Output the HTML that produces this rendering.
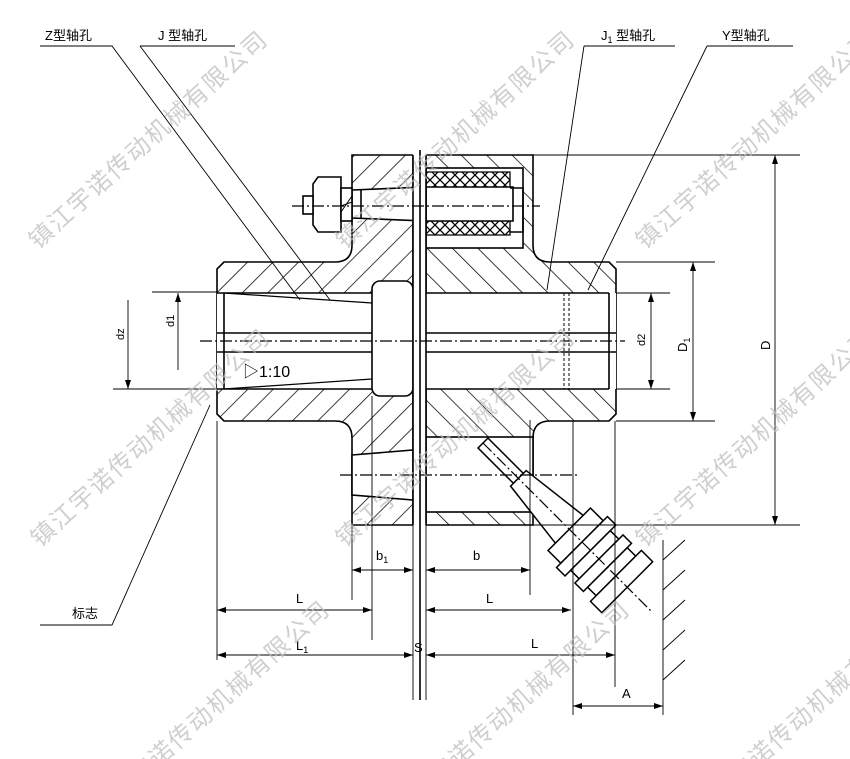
<!DOCTYPE html>
<html><head><meta charset="utf-8"><style>
html,body{margin:0;padding:0;background:#fff;width:850px;height:759px;overflow:hidden}
svg{display:block}
text{font-family:"Liberation Sans","Noto Sans CJK SC",sans-serif}
</style></head><body>
<svg width="850" height="759" viewBox="0 0 850 759" xmlns="http://www.w3.org/2000/svg">
<defs>
<pattern id="hl" width="18" height="18" patternUnits="userSpaceOnUse" patternTransform="rotate(45)">
<line x1="0" y1="0" x2="0" y2="18" stroke="#000" stroke-width="1.5"/></pattern>
<pattern id="hr" width="18" height="18" patternUnits="userSpaceOnUse" patternTransform="rotate(-45)">
<line x1="0" y1="0" x2="0" y2="18" stroke="#000" stroke-width="1.5"/></pattern>
<pattern id="hx" width="10" height="10" patternUnits="userSpaceOnUse">
<path d="M0 0L10 10M10 0L0 10" stroke="#000" stroke-width="1.3"/></pattern>
</defs>
<g fill="none" stroke="#000" stroke-width="1.6">
<path d="M224 262H335Q352 262 352 245V155H413V525H352V438Q352 421 335 421H224L217 414V269Z" fill="url(#hl)"/>
<path d="M426 155H533V245Q533 262 550 262H609L616 269V414L609 421H550Q533 421 533 438V525H426Z" fill="url(#hr)"/>
<path d="M217 293H372V389H217Z" fill="#fff" stroke="none"/>
<path d="M217 293H372M217 389H372M224 293V389M217 333H372M217 352H372"/>
<path d="M224 293L372 303M224 389L372 379" stroke-width="1.2"/>
<rect x="372" y="281" width="41" height="115" rx="8" fill="#fff"/>
<rect x="426" y="293" width="190" height="96" fill="#fff" stroke="none"/>
<path d="M426 293H609M426 389H609M609 293V389M426 333H616M426 352H616"/>
<path d="M564 293V389M569 293V389" stroke-width="1" stroke-dasharray="3,2"/>
<rect x="426" y="168" width="97" height="80" fill="#fff"/>
<path d="M426 172H510V235H426Z" fill="url(#hx)" stroke-width="1.3"/>
<path d="M426 187H513V221H426Z" fill="#fff"/>
<path d="M510 188H523V232H510" />
<path d="M352 190L426 187V221L352 218Z" fill="#fff"/>
<path d="M361 190V218"/>
<path d="M318 177H341V232H318L313 225V184Z" fill="#fff"/>
<rect x="303" y="196" width="10" height="18" fill="#fff"/>
<rect x="341" y="188" width="11" height="33" fill="#fff"/>
<path d="M341 212L352 196M341 206L352 202" stroke-width="1"/>
<path d="M352 455L413 450V500L352 495Z" fill="#fff"/>
<rect x="426" y="437" width="107" height="75" fill="#fff"/>
<rect x="413" y="150" width="13" height="380" fill="#fff" stroke="none"/>
<path d="M413 155V525M426 155V525M420 150V700" />
</g>
<g transform="translate(483,443) rotate(45)" fill="#fff" stroke="#000" stroke-width="1.5">
<rect x="0" y="-7" width="50" height="14"/>
<path d="M50 -11L125 -20V20L50 11Z"/>
<rect x="122" y="-30" width="18" height="60"/>
<rect x="140" y="-36" width="12" height="72"/>
<rect x="152" y="-28" width="12" height="56"/>
<rect x="164" y="-34" width="12" height="68"/>
<rect x="176" y="-28" width="12" height="56"/>
<rect x="188" y="-36" width="16" height="72"/>
</g>
<g stroke="#000" stroke-width="1.2" stroke-dasharray="12,3,2,3" fill="none">
<line x1="200" y1="341" x2="625" y2="341"/>
<line x1="292" y1="206" x2="540" y2="206"/>
<line x1="340" y1="475" x2="580" y2="475"/>
<line x1="483" y1="443" x2="652" y2="612"/>
</g>
<g stroke="#000" stroke-width="0.9" fill="none">
<path d="M530 155H800M616 262H715M616 421H715M616 293H670M616 389H670M533 525H800"/>
<path d="M152 292H217M113 389H217"/>
<path d="M217 421V660M352 525V600M372 396V640M413 525V700M426 525V700M530 420V595M573 421V715M615 421V687M663 540V715"/>
<path d="M775 155V525M693 262V421M651 293V389M178 293V370M128 300V389"/>
<path d="M352 570H413M426 570H530M217 610H372M426 610H571M217 655H413M426 655H615M573 706H663"/>
<path d="M663 560L685 540M663 590L685 570M663 620L685 600M663 650L685 630M663 680L685 660"/>
<path d="M40 46H112L300 300M140 46H235M140 46L330 300M584 46H675M584 46L547 290M707 46H793M707 46L588 290M40 625H112L210 405"/>
</g>
<g fill="#000">
<path d="M775 155l-3 9h6zM775 525l-3-9h6zM693 262l-3 9h6zM693 421l-3-9h6zM651 293l-3 9h6zM651 389l-3-9h6zM178 293l-3 9h6zM128 389l-3-9h6z"/>
<path d="M352 570l9-3v6zM413 570l-9-3v6zM426 570l9-3v6zM530 570l-9-3v6zM217 610l9-3v6zM372 610l-9-3v6zM426 610l9-3v6zM571 610l-9-3v6zM217 655l9-3v6zM413 655l-9-3v6zM426 655l9-3v6zM615 655l-9-3v6zM573 706l9-3v6zM663 706l-9-3v6z"/>
</g>
<g font-size="13" fill="#000">
<text x="45" y="40">Z型轴孔</text>
<text x="158" y="40">J 型轴孔</text>
<text x="601" y="40">J<tspan font-size="9" dy="3">1</tspan><tspan dy="-3"> 型轴孔</tspan></text>
<text x="722" y="40">Y型轴孔</text>
<text x="72" y="618">标志</text>
<text x="376" y="560">b<tspan font-size="9" dy="3">1</tspan></text>
<text x="473" y="560">b</text>
<text x="296" y="603">L</text>
<text x="486" y="603">L</text>
<text x="296" y="650">L<tspan font-size="9" dy="3">1</tspan></text>
<text x="414" y="652">S</text>
<text x="531" y="648">L</text>
<text x="622" y="698">A</text>
<text x="243" y="377" font-size="16">▷1:10</text>
<text transform="translate(770,350) rotate(-90)">D</text>
<text transform="translate(687,352) rotate(-90)">D<tspan font-size="9" dy="3">1</tspan></text>
<text transform="translate(645,346) rotate(-90)" font-size="11">d2</text>
<text transform="translate(174,327) rotate(-90)" font-size="11">d1</text>
<text transform="translate(124,340) rotate(-90)" font-size="11">dz</text>
</g>
<g font-size="24" fill="#bbb" fill-opacity="0.7" letter-spacing="2" style="font-family:'Noto Serif CJK SC','Noto Sans CJK SC',serif">
<text transform="translate(38,250) rotate(-42)">镇江宇诺传动机械有限公司</text>
<text transform="translate(345,250) rotate(-42)">镇江宇诺传动机械有限公司</text>
<text transform="translate(645,250) rotate(-42)">镇江宇诺传动机械有限公司</text>
<text transform="translate(40,548) rotate(-42)">镇江宇诺传动机械有限公司</text>
<text transform="translate(345,548) rotate(-42)">镇江宇诺传动机械有限公司</text>
<text transform="translate(645,548) rotate(-42)">镇江宇诺传动机械有限公司</text>
<text transform="translate(100,820) rotate(-42)">镇江宇诺传动机械有限公司</text>
<text transform="translate(400,820) rotate(-42)">镇江宇诺传动机械有限公司</text>
<text transform="translate(700,820) rotate(-42)">镇江宇诺传动机械有限公司</text>
</g>
</svg>
</body></html>
